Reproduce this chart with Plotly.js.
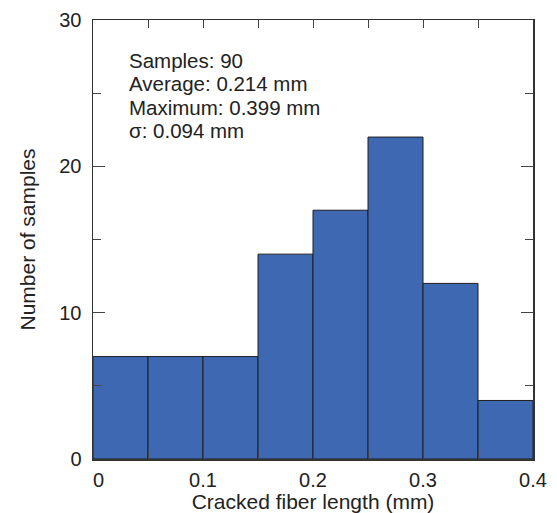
<!DOCTYPE html>
<html>
<head>
<meta charset="utf-8">
<script src="https://cdn.plot.ly/plotly-3.0.1.min.js"></script>
<style>html,body{margin:0;padding:0;background:#fff;}#chart{width:557px;height:513px;}</style>
</head>
<body>
<div id="chart"></div>
<script>
// Histogram bins (mm) and counts
const binCenters = [0.025, 0.075, 0.125, 0.175, 0.225, 0.275, 0.325, 0.375];
const counts = [7, 7, 7, 14, 17, 22, 12, 4];
const xTickVals = [0, 0.1, 0.2, 0.3, 0.4];
const xTickText = ['\u00a0\u00a00', '0.1', '0.2', '0.3', '0.4'];
const yTickVals = [0, 10, 20, 30];
const statsLines = ['Samples: 90', 'Average: 0.214 mm', 'Maximum: 0.399 mm', '\u03c3: 0.094 mm'];

const fam = 'Liberation Sans, Arial, sans-serif';
const tickFont = {family: fam, size: 20, color: '#222'};
const titleFont = {family: fam, size: 21, color: '#222'};
const annFont = {family: fam, size: 20.5, color: '#222'};

const trace = {
  type: 'bar',
  x: binCenters,
  y: counts,
  width: 0.05,
  marker: {color: '#3F68B2', line: {color: '#1e1e1e', width: 1}},
  hoverinfo: 'x+y'
};

const plotTop = 20, plotBottom = 459;
const lineCentersPx = [60, 83.5, 107, 130.5];
const annotations = statsLines.map((t, i) => ({
  xref: 'paper', yref: 'paper',
  x: (127 - 93) / (533 - 93),
  y: 1 - (lineCentersPx[i] - plotTop) / (plotBottom - plotTop),
  xanchor: 'left', yanchor: 'middle', align: 'left',
  showarrow: false, text: t, font: annFont
}));

const layout = {
  width: 557, height: 513,
  margin: {l: 93, r: 24, t: 20, b: 54},
  paper_bgcolor: '#fff', plot_bgcolor: '#fff',
  font: tickFont,
  showlegend: false,
  bargap: 0,
  xaxis: {
    range: [0, 0.4],
    tickvals: xTickVals, ticktext: xTickText,
    ticks: 'inside', ticklen: 8, tickcolor: '#444', tickwidth: 1,
    minor: {dtick: 0.05, tick0: 0, ticks: 'inside', ticklen: 8, tickcolor: '#444'},
    showline: true, linecolor: '#333', linewidth: 1.5, mirror: 'ticks',
    showgrid: false, zeroline: false,
    tickfont: tickFont,
    ticklabelstandoff: 2,
    title: {text: 'Cracked fiber length (mm)', font: titleFont, standoff: 6}
  },
  yaxis: {
    range: [0, 30],
    tickvals: yTickVals,
    ticks: 'inside', ticklen: 12, tickcolor: '#444', tickwidth: 1,
    minor: {dtick: 5, tick0: 0, ticks: 'inside', ticklen: 8, tickcolor: '#444'},
    showline: true, linecolor: '#333', linewidth: 1.5, mirror: 'ticks',
    showgrid: false, zeroline: false,
    tickfont: tickFont,
    ticklabelstandoff: 6,
    title: {text: 'Number of samples', font: titleFont, standoff: 18}
  },
  annotations: annotations
};

Plotly.newPlot('chart', [trace], layout, {displayModeBar: false, staticPlot: true});
</script>
</body>
</html>
